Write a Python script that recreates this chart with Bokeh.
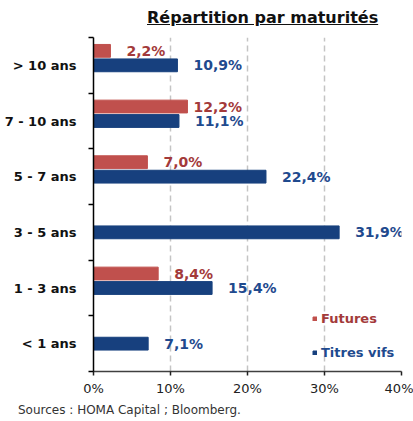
from bokeh.plotting import figure
from bokeh.layouts import column
from bokeh.models import (Range1d, FixedTicker, PrintfTickFormatter, Div,
                          Legend, LegendItem, ColumnDataSource)
from bokeh.core.properties import value
from bokeh.embed import file_html
from bokeh.resources import INLINE

categories = ["> 10 ans", "7 - 10 ans", "5 - 7 ans", "3 - 5 ans", "1 - 3 ans", "< 1 ans"]
futures = [2.2, 12.2, 7.0, None, 8.4, None]
titres_vifs = [10.9, 11.1, 22.4, 31.9, 15.4, 7.1]
x_ticks = [0, 10, 20, 30, 40]
title_text = "Répartition par maturités"
source_text = "Sources : HOMA Capital ; Bloomberg."

FONT = value("DejaVu Sans")
RED_BAR = "#C0504D"
RED_TXT = "#A33A3A"
BLUE_BAR = "#17407E"
BLUE_TXT = "#1F4A8E"

n = len(categories)
centers = [n - 0.5 - i for i in range(n)]
RED_SHIFT = 0.26
BAR_H = 0.23

def fmt(v):
    return f"{v:.1f}".replace(".", ",") + "%"

blue_src = ColumnDataSource(dict(y=centers, v=titres_vifs, lab=[fmt(v) for v in titres_vifs]))
fy, fv = [], []
for c, v in zip(centers, futures):
    if v is not None:
        fy.append(c + RED_SHIFT)
        fv.append(v)
# the 12,2% label sits closer to its bar in the original
red_src = ColumnDataSource(dict(y=fy, v=fv, lab=[fmt(v) for v in fv],
                                xo=[16 if v != 12.2 else 6 for v in fv]))

p = figure(width=413, height=374, output_backend="svg", toolbar_location=None,
           x_range=Range1d(0, 40), y_range=Range1d(0, n),
           min_border_left=93, min_border_right=12, min_border_top=9, min_border_bottom=31,
           margin=(0, 0, 0, 0))
p.outline_line_color = None
p.background_fill_color = "white"
p.border_fill_color = "white"

rb = p.hbar(y="y", right="v", left=0, height=BAR_H, color=BLUE_BAR, source=blue_src)
rr = p.hbar(y="y", right="v", left=0, height=BAR_H, color=RED_BAR, source=red_src)

p.text(x="v", y="y", text="lab", source=blue_src, x_offset=16, text_align="left",
       text_baseline="middle", text_font=FONT, text_font_size="14px",
       text_font_style="bold", text_color=BLUE_TXT)
p.text(x="v", y="y", text="lab", source=red_src, x_offset="xo", text_align="left",
       text_baseline="middle", text_font=FONT, text_font_size="14px",
       text_font_style="bold", text_color=RED_TXT)

# x axis
xa = p.xaxis[0]
xa.ticker = FixedTicker(ticks=x_ticks, minor_ticks=[])
xa.formatter = PrintfTickFormatter(format="%d%%")
xa.axis_line_color = "#404040"
xa.axis_line_width = 1.5
xa.major_tick_line_color = "#202020"
xa.major_tick_line_width = 1.5
xa.major_tick_out = 4
xa.major_tick_in = 0
xa.major_label_standoff = 5
xa.major_label_text_font = "DejaVu Sans"
xa.major_label_text_font_size = "13px"
xa.major_label_text_color = "#222222"

# y axis
ya = p.yaxis[0]
ya.ticker = FixedTicker(ticks=centers, minor_ticks=list(range(n + 1)))
ya.major_label_overrides = {c: lab for c, lab in zip(centers, categories)}
ya.axis_line_color = "black"
ya.axis_line_width = 1.5
ya.major_tick_out = 0
ya.major_tick_in = 0
ya.minor_tick_out = 5
ya.minor_tick_in = 0
ya.minor_tick_line_color = "black"
ya.minor_tick_line_width = 1.5
ya.major_label_standoff = 12
ya.major_label_text_font = "DejaVu Sans"
ya.major_label_text_font_size = "13px"
ya.major_label_text_font_style = "bold"
ya.major_label_text_color = "#111111"

p.ygrid.grid_line_color = None
p.xgrid.ticker = FixedTicker(ticks=x_ticks[1:])
p.xgrid.grid_line_color = "#C4C4C4"
p.xgrid.grid_line_width = 1.5
p.xgrid.grid_line_dash = "6 4"

# legends (one per series so each label keeps its series colour)
common = dict(orientation="vertical", padding=0, margin=0, spacing=0,
              glyph_width=5, glyph_height=5, label_standoff=4, label_height=14,
              label_text_font="DejaVu Sans", label_text_font_size="13px",
              label_text_font_style="bold", background_fill_alpha=0,
              border_line_color=None)
leg1 = Legend(items=[LegendItem(label="Futures", renderers=[rr])], location=(219, 45),
              label_text_color=RED_TXT, **common)
leg2 = Legend(items=[LegendItem(label="Titres vifs", renderers=[rb])], location=(219, 11),
              label_text_color=BLUE_TXT, **common)
p.add_layout(leg1, "center")
p.add_layout(leg2, "center")

title_div = Div(width=413, height=28, margin=(0, 0, 0, 0), text=(
    '<div style="margin-left:147px;padding-top:9px;font-family:\'DejaVu Sans\';'
    'font-size:16px;font-weight:bold;color:#111111;text-decoration:underline;'
    'line-height:18px;white-space:nowrap">' + title_text + '</div>'))
source_div = Div(width=413, height=15, margin=(0, 0, 0, 0), text=(
    '<div style="margin-left:18px;font-family:\'DejaVu Sans\';font-size:12px;'
    'line-height:15px;color:#333333;white-space:nowrap">' + source_text + '</div>'))

layout = column(title_div, p, source_div, spacing=0)
open("out.html", "w").write(file_html(layout, INLINE))
